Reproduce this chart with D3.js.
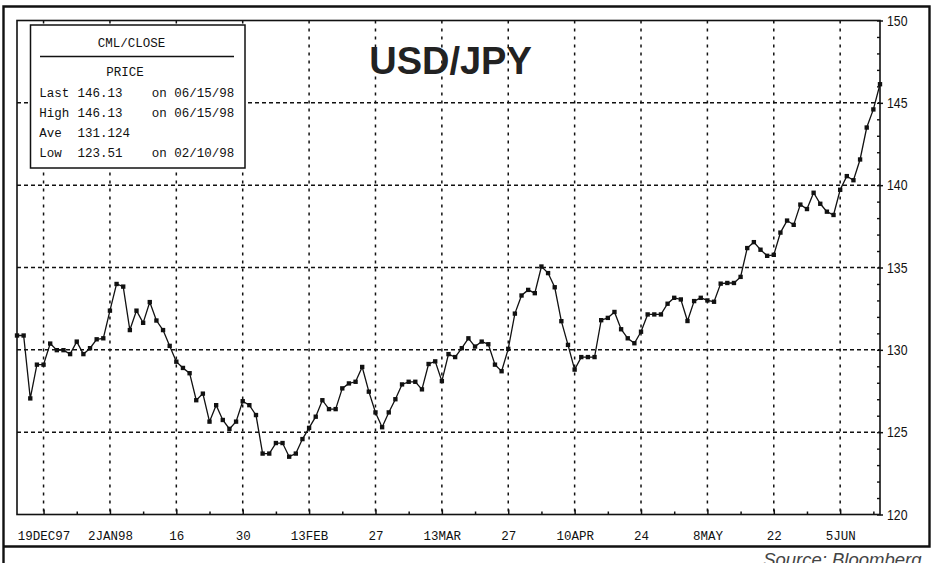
<!DOCTYPE html>
<html>
<head>
<meta charset="utf-8">
<script src="https://cdn.jsdelivr.net/npm/d3@7"></script>
<style>
  body { margin: 0; background: #fff; }
  svg { display: block; }
  .mono { font-family: "Liberation Mono", "DejaVu Sans Mono", monospace; font-size: 12.5px; fill: #111; }
</style>
</head>
<body>
<div id="chart"></div>
<script>
// USD/JPY daily close, business days 15 Dec 1997 - 15 Jun 1998
const firstDay = "1997-12-15";
const lastDay = "1998-06-15";
const closes = [
  // Dec 97
  130.87, 130.87, 127.05, 129.10, 129.10, 130.38, 129.98, 129.98, 129.74, 130.50, 129.74, 130.10, 130.64,
  // Jan 98
  130.70, 132.38, 134.00, 133.84, 131.20, 132.38, 131.64, 132.90, 131.78, 131.20, 130.24, 129.28,
  128.90, 128.58, 126.94, 127.34, 125.64, 126.64, 125.74, 125.20, 125.64, 126.88,
  // Feb
  126.64, 126.04, 123.70, 123.70, 124.34, 124.34, 123.51, 123.70, 124.58, 125.26,
  125.94, 126.94, 126.40, 126.40, 127.66, 127.96, 128.06, 128.96, 127.46, 126.20,
  // Mar
  125.30, 126.20, 127.00, 127.90, 128.06, 128.06, 127.60, 129.14, 129.30, 128.10,
  129.74, 129.56, 130.10, 130.70, 130.20, 130.50, 130.34, 129.10, 128.70, 130.06, 132.20, 133.30,
  // Apr
  133.64, 133.44, 135.06, 134.66, 133.80, 131.74, 130.30, 128.80, 129.56, 129.56, 129.56, 131.80,
  131.94, 132.30, 131.25, 130.70, 130.40, 131.10, 132.15, 132.15, 132.15, 132.80,
  // May
  133.16, 133.06, 131.75, 132.96, 133.16, 133.00, 132.92, 134.02, 134.06, 134.06, 134.43,
  136.18, 136.54, 136.08, 135.71, 135.77, 137.12, 137.85, 137.59, 138.82, 138.55,
  // Jun
  139.54, 138.87, 138.39, 138.19, 139.72, 140.55, 140.30, 141.56, 143.50, 144.60, 146.13
];

const tickDates = ["1997-12-19", "1998-01-02", "1998-01-16", "1998-01-30", "1998-02-13", "1998-02-27",
  "1998-03-13", "1998-03-27", "1998-04-10", "1998-04-24", "1998-05-08", "1998-05-22", "1998-06-05"];
const tickLabels = ["19DEC97", "2JAN98", "16", "30", "13FEB", "27", "13MAR", "27", "10APR", "24", "8MAY", "22", "5JUN"];
const yTicks = [120, 125, 130, 135, 140, 145, 150];

const legendTitle = "CML/CLOSE";
const legendSub = "PRICE";
const legendRows = [
  ["Last", "146.13", "on 06/15/98"],
  ["High", "146.13", "on 06/15/98"],
  ["Ave", "131.124", ""],
  ["Low", "123.51", "on 02/10/98"]
];

const W = 952, H = 563;
const plot = { left: 17, right: 880, top: 20.5, bottom: 514.5 };

const parse = d3.timeParse("%Y-%m-%d");
const fmt = d3.timeFormat("%Y-%m-%d");

// trading calendar: every weekday (holidays kept, as on the terminal chart)
const days = d3.timeDay.range(parse(firstDay), d3.timeDay.offset(parse(lastDay), 1))
  .filter(d => d.getDay() !== 0 && d.getDay() !== 6)
  .map(fmt);

const data = days.map((d, i) => ({ date: d, close: closes[i] }));

const svg = d3.select("#chart").append("svg")
  .attr("width", W)
  .attr("height", H);

svg.append("rect").attr("width", W).attr("height", H).attr("fill", "#fff");

const x = d3.scalePoint()
  .domain(days)
  .range([plot.left, plot.right]);

const y = d3.scaleLinear()
  .domain([120, 150])
  .range([plot.bottom, plot.top]);

// outer frame
svg.append("path")
  .attr("d", `M3.5,${H} V6.5 H929.5 V546.5 H3.5`)
  .attr("fill", "none")
  .attr("stroke", "#111")
  .attr("stroke-width", 2.4);

// grid
const grid = svg.append("g").attr("stroke", "#111").attr("stroke-width", 1.5);

grid.selectAll(".hgrid")
  .data(yTicks.filter(v => v > 120 && v < 150))
  .join("line")
  .attr("x1", plot.left).attr("x2", plot.right)
  .attr("y1", d => y(d)).attr("y2", d => y(d))
  .attr("stroke-dasharray", "4,3");

grid.selectAll(".vgrid")
  .data(tickDates)
  .join("line")
  .attr("x1", d => x(d)).attr("x2", d => x(d))
  .attr("y1", plot.top).attr("y2", plot.bottom)
  .attr("stroke-dasharray", "3,5");

// bottom axis: labelled fortnightly ticks
const xAxis = svg.append("g")
  .attr("transform", `translate(0,${plot.bottom})`)
  .call(d3.axisBottom(x)
    .tickValues(tickDates)
    .tickSize(-5)
    .tickFormat((d, i) => tickLabels[i]));
xAxis.select(".domain").remove();
xAxis.selectAll("line").attr("stroke", "#111").attr("stroke-width", 1.5);
xAxis.selectAll("text")
  .attr("class", "mono")
  .attr("y", 25)
  .attr("dy", null)
  .attr("fill", "#111");

// weekly minor ticks
const minorX = days.filter(d => parse(d).getDay() === 5 && !tickDates.includes(d));
const xMinor = svg.append("g")
  .attr("transform", `translate(0,${plot.bottom})`)
  .call(d3.axisBottom(x).tickValues(minorX).tickSize(-3).tickFormat(""));
xMinor.select(".domain").remove();
xMinor.selectAll("line").attr("stroke", "#111").attr("stroke-width", 1.5);

// right axis
const yAxis = svg.append("g")
  .attr("transform", `translate(${plot.right},0)`)
  .call(d3.axisRight(y).tickValues(yTicks).tickSize(3).tickPadding(4));
yAxis.select(".domain").remove();
yAxis.selectAll("line").attr("stroke", "#111").attr("stroke-width", 1.5);
yAxis.selectAll("text")
  .attr("fill", "#111")
  .style("font-family", "'Liberation Sans', Arial, sans-serif")
  .style("font-size", "14.5px")
  .attr("textLength", 20.5)
  .attr("lengthAdjust", "spacingAndGlyphs");

const yMinor = svg.append("g")
  .attr("transform", `translate(${plot.right},0)`)
  .call(d3.axisRight(y).ticks(30).tickSize(-3).tickFormat(""));
yMinor.select(".domain").remove();
yMinor.selectAll("line").attr("stroke", "#111").attr("stroke-width", 1.4);

// plot frame
svg.append("rect")
  .attr("x", plot.left).attr("y", plot.top)
  .attr("width", plot.right - plot.left)
  .attr("height", plot.bottom - plot.top)
  .attr("fill", "none")
  .attr("stroke", "#111")
  .attr("stroke-width", 1.6);

// price line with markers
const line = d3.line()
  .x(d => x(d.date))
  .y(d => y(d.close));

svg.append("path")
  .datum(data)
  .attr("fill", "none")
  .attr("stroke", "#111")
  .attr("stroke-width", 1.3)
  .attr("d", line);

svg.append("g")
  .selectAll("path")
  .data(data)
  .join("path")
  .attr("transform", d => `translate(${x(d.date)},${y(d.close)})`)
  .attr("d", d3.symbol(d3.symbolSquare, 19))
  .attr("fill", "#111");

// stats box
const legend = svg.append("g");
legend.append("rect")
  .attr("x", 30.5).attr("y", 25)
  .attr("width", 214.5).attr("height", 143)
  .attr("fill", "#fff")
  .attr("stroke", "#111")
  .attr("stroke-width", 1.5);

legend.append("text").attr("class", "mono")
  .attr("x", 131.5).attr("y", 46.5)
  .attr("text-anchor", "middle")
  .text(legendTitle);

legend.append("line")
  .attr("x1", 40).attr("x2", 234)
  .attr("y1", 56.5).attr("y2", 56.5)
  .attr("stroke", "#111")
  .attr("stroke-width", 1.5);

legend.append("text").attr("class", "mono")
  .attr("x", 125).attr("y", 76)
  .attr("text-anchor", "middle")
  .text(legendSub);

legendRows.forEach((row, i) => {
  const by = 96.5 + i * 20.3;
  legend.append("text").attr("class", "mono").attr("x", 39.3).attr("y", by).text(row[0]);
  legend.append("text").attr("class", "mono").attr("x", 77.5).attr("y", by).text(row[1]);
  legend.append("text").attr("class", "mono").attr("x", 151.7).attr("y", by).text(row[2]);
});

// title
svg.append("text")
  .attr("x", 450.5).attr("y", 74)
  .attr("text-anchor", "middle")
  .style("font-family", "'Liberation Sans', Arial, sans-serif")
  .style("font-weight", "bold")
  .style("font-size", "38px")
  .attr("fill", "#222")
  .text("USD/JPY");

// source note
svg.append("text")
  .attr("x", 921.5).attr("y", 566)
  .attr("text-anchor", "end")
  .style("font-family", "'Liberation Sans', Arial, sans-serif")
  .style("font-style", "italic")
  .style("font-size", "18.5px")
  .attr("fill", "#444")
  .text("Source: Bloomberg");
</script>
</body>
</html>
